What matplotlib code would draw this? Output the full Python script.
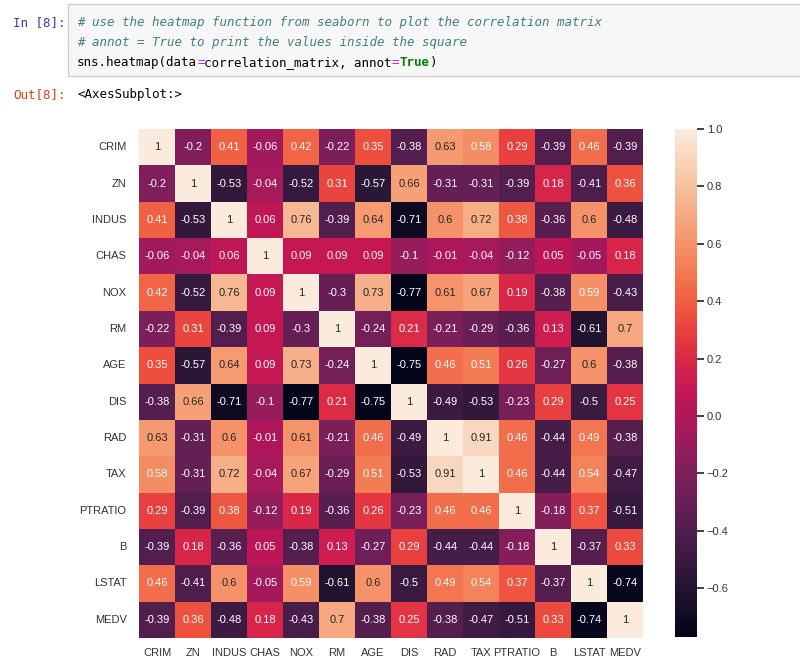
import matplotlib
matplotlib.use("Agg")
import matplotlib.pyplot as plt
from matplotlib.patches import Rectangle
import numpy as np
import pandas as pd
import seaborn as sns

labels = ["CRIM", "ZN", "INDUS", "CHAS", "NOX", "RM", "AGE", "DIS", "RAD",
          "TAX", "PTRATIO", "B", "LSTAT", "MEDV"]

row_crim = [1, -0.2, 0.41, -0.06, 0.42, -0.22, 0.35, -0.38, 0.63, 0.58, 0.29, -0.39, 0.46, -0.39]
row_zn = [-0.2, 1, -0.53, -0.04, -0.52, 0.31, -0.57, 0.66, -0.31, -0.31, -0.39, 0.18, -0.41, 0.36]
row_indus = [0.41, -0.53, 1, 0.06, 0.76, -0.39, 0.64, -0.71, 0.6, 0.72, 0.38, -0.36, 0.6, -0.48]
row_chas = [-0.06, -0.04, 0.06, 1, 0.09, 0.09, 0.09, -0.1, -0.01, -0.04, -0.12, 0.05, -0.05, 0.18]
row_nox = [0.42, -0.52, 0.76, 0.09, 1, -0.3, 0.73, -0.77, 0.61, 0.67, 0.19, -0.38, 0.59, -0.43]
row_rm = [-0.22, 0.31, -0.39, 0.09, -0.3, 1, -0.24, 0.21, -0.21, -0.29, -0.36, 0.13, -0.61, 0.7]
row_age = [0.35, -0.57, 0.64, 0.09, 0.73, -0.24, 1, -0.75, 0.46, 0.51, 0.26, -0.27, 0.6, -0.38]
row_dis = [-0.38, 0.66, -0.71, -0.1, -0.77, 0.21, -0.75, 1, -0.49, -0.53, -0.23, 0.29, -0.5, 0.25]
row_rad = [0.63, -0.31, 0.6, -0.01, 0.61, -0.21, 0.46, -0.49, 1, 0.91, 0.46, -0.44, 0.49, -0.38]
row_tax = [0.58, -0.31, 0.72, -0.04, 0.67, -0.29, 0.51, -0.53, 0.91, 1, 0.46, -0.44, 0.54, -0.47]
row_ptratio = [0.29, -0.39, 0.38, -0.12, 0.19, -0.36, 0.26, -0.23, 0.46, 0.46, 1, -0.18, 0.37, -0.51]
row_b = [-0.39, 0.18, -0.36, 0.05, -0.38, 0.13, -0.27, 0.29, -0.44, -0.44, -0.18, 1, -0.37, 0.33]
row_lstat = [0.46, -0.41, 0.6, -0.05, 0.59, -0.61, 0.6, -0.5, 0.49, 0.54, 0.37, -0.37, 1, -0.74]
row_medv = [-0.39, 0.36, -0.48, 0.18, -0.43, 0.7, -0.38, 0.25, -0.38, -0.47, -0.51, 0.33, -0.74, 1]

cbar_ticks = [-0.6, -0.4, -0.2, 0.0, 0.2, 0.4, 0.6, 0.8, 1.0]

code_comment1 = "# use the heatmap function from seaborn to plot the correlation matrix"
code_comment2 = "# annot = True to print the values inside the square"
code_parts = [("sns.heatmap(data", "black", "normal"), ("=", "#AA22FF", "normal"),
              ("correlation_matrix, annot", "black", "normal"), ("=", "#AA22FF", "normal"),
              ("True", "#008000", "bold"), (")", "black", "normal")]

corr = pd.DataFrame([row_crim, row_zn, row_indus, row_chas, row_nox, row_rm, row_age,
                     row_dis, row_rad, row_tax, row_ptratio, row_b, row_lstat, row_medv],
                    index=labels, columns=labels)

plt.rcParams["font.family"] = ["Liberation Sans", "DejaVu Sans"]

W, H = 800, 662
fig = plt.figure(figsize=(W / 100, H / 100), dpi=100)
fig.patch.set_facecolor("white")

def fx(px):
    return px / W

def fy(py):
    return 1 - py / H

# Notebook input cell box
fig.patches.append(Rectangle((fx(68), fy(76)), fx(740), 72 / H, transform=fig.transFigure,
                             facecolor="#f7f7f7", edgecolor="#cfcfcf", lw=1.0))

mono = ["DejaVu Sans Mono"]
fs_code = 9.0
fig.text(fx(13), fy(26), "In [8]:", family=mono, size=fs_code, color="#303F9F", va="baseline")
fig.text(fx(77), fy(26), code_comment1, family=mono, size=fs_code, color="#408080",
         style="italic", va="baseline")
fig.text(fx(77), fy(46), code_comment2, family=mono, size=fs_code, color="#408080",
         style="italic", va="baseline")
parts_objs = []
for i, (txt, col, wt) in enumerate(code_parts):
    parts_objs.append(fig.text(fx(77), fy(66), txt, family=mono, size=fs_code, color=col,
                               weight=wt, va="baseline", ha="left"))

fig.text(fx(13), fy(98), "Out[8]:", family=mono, size=fs_code, color="#D84315", va="baseline")
fig.text(fx(77), fy(98), "<AxesSubplot:>", family=mono, size=fs_code, color="black", va="baseline")

# position the code segments one after another
fig.canvas.draw()
r = fig.canvas.get_renderer()
x_px = parts_objs[0].get_window_extent(r).x1
for t in parts_objs[1:]:
    t.set_x(x_px / W)
    fig.canvas.draw()
    x_px = t.get_window_extent(r).x1

ax = fig.add_axes([fx(139), fy(638), 504 / W, 509 / H])
cax = fig.add_axes([fx(675), fy(637), 22 / W, 508 / H])

sns.heatmap(data=corr, annot=True, ax=ax, cbar_ax=cax, annot_kws={"size": 8})

narrow = ["Liberation Sans Narrow", "Liberation Sans", "DejaVu Sans"]
ax.tick_params(axis="y", length=0, pad=9)
ax.tick_params(axis="x", length=0, pad=7)
ax.set_xticklabels(labels, rotation=0, fontsize=8, family=narrow, color="#333333")
ax.set_yticklabels(labels, rotation=0, fontsize=8, family=narrow, color="#333333")

cax.set_yticks(cbar_ticks)
cax.tick_params(length=5, width=1.3, color="#333333", labelsize=8, pad=2,
                labelcolor="#333333")

fig.savefig("out.png", dpi=100, facecolor="white")
